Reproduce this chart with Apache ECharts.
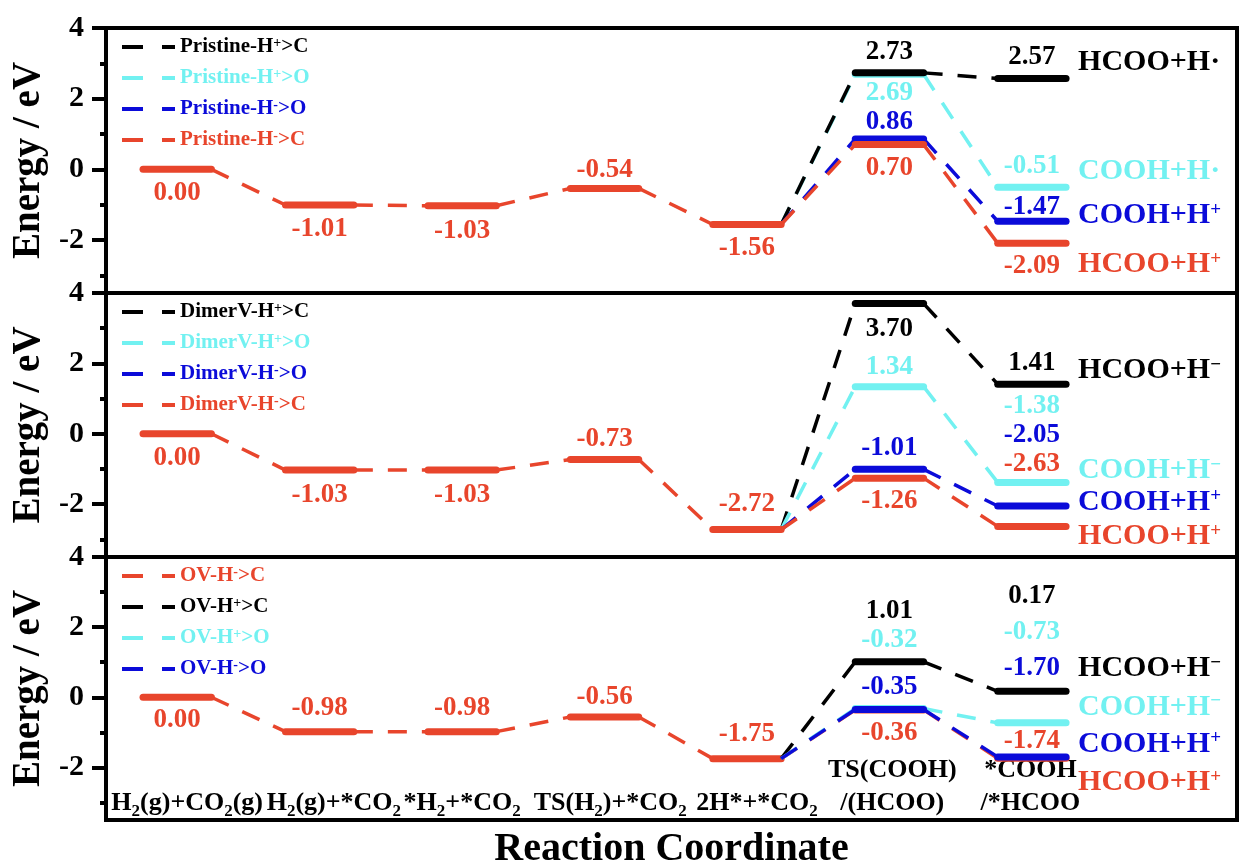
<!DOCTYPE html>
<html>
<head>
<meta charset="utf-8">
<script src="https://cdn.jsdelivr.net/npm/echarts@6/dist/echarts.min.js"></script>
<style>
  html, body { margin: 0; padding: 0; background: #fff; }
  #chart { width: 1240px; height: 863px; }
</style>
</head>
<body>
<div id="chart"></div>
<script>
// Reaction steps along the x axis (₂ is drawn as a subscript)
const stages = ['H₂(g)+CO₂(g)', 'H₂(g)+*CO₂', '*H₂+*CO₂', 'TS(H₂)+*CO₂', '2H*+*CO₂', 'TS(COOH)\n/(HCOO)', '*COOH\n/*HCOO'];

// Hydrogen routes, in the order used by the TS / final arrays below
const routes = ['H⁺>C', 'H⁺>O', 'H⁻>O', 'H⁻>C'];

// Pristine surface (eV)
const pristineShared = [0.00, -1.01, -1.03, -0.54, -1.56];
const pristineTS = [2.73, 2.69, 0.86, 0.70];
const pristineFinal = [2.57, -0.51, -1.47, -2.09];
const pristineProducts = ['HCOO+H·', 'COOH+H·', 'COOH+H⁺', 'HCOO+H⁺'];

// Dimer vacancy (eV)
const dimerShared = [0.00, -1.03, -1.03, -0.73, -2.72];
const dimerTS = [3.70, 1.34, -1.01, -1.26];
const dimerFinal = [1.41, -1.38, -2.05, -2.63];
const dimerProducts = ['HCOO+H⁻', 'COOH+H⁻', 'COOH+H⁺', 'HCOO+H⁺'];

// Oxygen vacancy (eV)
const ovShared = [0.00, -0.98, -0.98, -0.56, -1.75];
const ovTS = [1.01, -0.32, -0.35, -0.36];
const ovFinal = [0.17, -0.73, -1.70, -1.74];
const ovProducts = ['HCOO+H⁻', 'COOH+H⁻', 'COOH+H⁺', 'HCOO+H⁺'];

const yTicks = [-2, 0, 2, 4];
const yMinorTicks = [-3, -1, 1, 3];

// ---- styling / layout ----
const FONT = '"Liberation Serif", "Times New Roman", serif';
const COLORS = ['#000000', '#72F1F1', '#0B0BD9', '#E8452C'];
const HW = 0.24;                    // half width of an energy level, in stage units
const X_MIN = -0.5, X_MAX = 7.44;
const GRIDS = [
  { top: 28, height: 265 },
  { top: 293, height: 264 },
  { top: 557, height: 263 }
];
// small horizontal nudges (in stage units) of the stage captions
const stageLabelNudge = [0.07, 0.1, 0, 0.04, 0.07, 0.02, -0.01];

const panels = [
  { prefix: 'Pristine', shared: pristineShared, ts: pristineTS, fin: pristineFinal, products: pristineProducts,
    legendOrder: [0, 1, 2, 3], drawOrder: [1, 0, 2, 3] },
  { prefix: 'DimerV', shared: dimerShared, ts: dimerTS, fin: dimerFinal, products: dimerProducts,
    legendOrder: [0, 1, 2, 3], drawOrder: [0, 1, 2, 3] },
  { prefix: 'OV', shared: ovShared, ts: ovTS, fin: ovFinal, products: ovProducts,
    legendOrder: [3, 0, 1, 2], drawOrder: [3, 0, 1, 2] }
];

// vertical label offsets (px) from each level line; negative = above
const labelDy = [
  { shared: [24, 24, 25, -18, 24], ts: [-21, 19, -17, 23], fin: [-21, -21, -14, 23], product: [-16, -16, -6, 21] },
  { shared: [24, 25, 25, -20, -26], ts: [25, -20, -21, 23], fin: [-21, -76, -71, -62], product: [-14, -12, -4, 10] },
  { shared: [23, -24, -24, -20, -25], ts: [-51, -68, -23, 23], fin: [-95, -91, -89, -17], product: [-23, -16, -13, 24] }
];

function supMarkup(s) {
  return s.replace('⁺', '{sup|+}').replace('⁻', '{sup|−}');
}

function routeSeries(p, r) {
  const pn = panels[p];
  const lay = labelDy[p];
  const color = COLORS[r];
  const levels = pn.shared.concat([pn.ts[r], pn.fin[r]]);
  // the H⁻>C route carries the common part of the path
  const start = r === 3 ? 0 : levels.length - 2;
  const data = [];
  for (let i = start; i < levels.length; i++) {
    data.push([i, levels[i], i > 0 ? levels[i - 1] : 0]);
  }
  return {
    type: 'custom',
    name: pn.prefix + '-' + routes[r],
    xAxisIndex: p,
    yAxisIndex: 2 * p,
    itemStyle: { color: color },
    clip: false,
    silent: true,
    encode: { x: 0, y: 1 },
    data: data,
    renderItem: function (params, api) {
      const i = api.value(0), v = api.value(1), prev = api.value(2);
      const L = api.coord([i - HW, v]);
      const R = api.coord([i + HW, v]);
      const kids = [];
      if (i > 0) {
        const P = api.coord([i - 1 + HW, prev]);
        kids.push({
          type: 'line',
          shape: { x1: P[0], y1: P[1], x2: L[0], y2: L[1] },
          style: { stroke: color, lineWidth: 3.5, lineDash: [19, 15], fill: null }
        });
      }
      kids.push({
        type: 'line',
        shape: { x1: L[0], y1: L[1], x2: R[0], y2: R[1] },
        style: { stroke: color, lineWidth: 7, lineCap: 'round', fill: null }
      });
      const dy = i < 5 ? lay.shared[i] : (i === 5 ? lay.ts[r] : lay.fin[r]);
      kids.push({
        type: 'text',
        x: (L[0] + R[0]) / 2,
        y: L[1] + dy,
        style: {
          text: v.toFixed(2), fill: color,
          fontSize: 27, fontWeight: 'bold', fontFamily: FONT,
          align: 'center', verticalAlign: 'middle'
        }
      });
      if (i === levels.length - 1) {
        kids.push({
          type: 'text',
          x: R[0] + 12,
          y: R[1] + lay.product[r],
          style: {
            text: supMarkup(pn.products[r]), fill: color,
            fontSize: 30, fontWeight: 'bold', fontFamily: FONT,
            align: 'left', verticalAlign: 'middle',
            rich: {
              sup: { fontSize: 19, fontWeight: 'bold', fontFamily: FONT, fill: color, verticalAlign: 'top', lineHeight: 12 }
            }
          }
        });
      }
      return { type: 'group', children: kids };
    }
  };
}

const grid = GRIDS.map(g => ({
  left: 106, right: 3, top: g.top, height: g.height,
  outerBoundsMode: 'none',
  show: true, borderColor: '#000', borderWidth: 4, backgroundColor: 'transparent'
}));

const xAxis = panels.map((pn, p) => ({
  gridIndex: p,
  type: 'value',
  min: X_MIN,
  max: X_MAX,
  show: p === 2,
  axisLine: { show: false, onZero: false },
  axisTick: { show: false },
  splitLine: { show: false },
  name: p === 2 ? 'Reaction Coordinate' : '',
  nameLocation: 'middle',
  nameGap: 10,
  nameTextStyle: { fontFamily: FONT, fontWeight: 'bold', fontSize: 40, color: '#000', verticalAlign: 'top' },
  axisLabel: {
    show: p === 2,
    inside: true,
    margin: 0,
    customValues: stages.map((s, i) => i + stageLabelNudge[i]),
    formatter: function (val) {
      return stages[Math.round(val)].replace(/₂/g, '{sub|2}');
    },
    color: '#000',
    fontFamily: FONT,
    fontWeight: 'bold',
    fontSize: 26,
    lineHeight: 33,
    rich: {
      sub: { fontFamily: FONT, fontWeight: 'bold', fontSize: 17, color: '#000', verticalAlign: 'bottom', lineHeight: 15 }
    }
  }
}));

const yAxis = [];
panels.forEach((pn, p) => {
  yAxis.push({
    gridIndex: p,
    type: 'value',
    position: 'left',
    min: -3.5,
    max: 4,
    name: 'Energy / eV',
    nameLocation: 'middle',
    nameRotate: 90,
    nameGap: 54,
    nameTextStyle: { fontFamily: FONT, fontWeight: 'bold', fontSize: 39, color: '#000' },
    axisLine: { show: false, onZero: false },
    splitLine: { show: false },
    axisTick: { show: true, customValues: yTicks, length: 14, lineStyle: { width: 4, color: '#000' } },
    axisLabel: { customValues: yTicks, margin: 22, fontFamily: FONT, fontWeight: 'bold', fontSize: 30, color: '#000' }
  });
  yAxis.push({
    gridIndex: p,
    type: 'value',
    position: 'left',
    min: -3.5,
    max: 4,
    axisLine: { show: false, onZero: false },
    splitLine: { show: false },
    axisLabel: { show: false },
    axisTick: { show: true, customValues: yMinorTicks, length: 6, lineStyle: { width: 4, color: '#000' } }
  });
});

const legend = panels.map((pn, p) => ({
  orient: 'vertical',
  left: 122,
  top: GRIDS[p].top + 8,
  padding: 0,
  itemGap: 9,
  itemWidth: 53,
  itemHeight: 4,
  selectedMode: false,
  icon: 'path://M0,0H21V4H0ZM40,0H53V4H40Z',
  data: pn.legendOrder.map(r => ({ name: pn.prefix + '-' + routes[r], textStyle: { color: COLORS[r] } })),
  formatter: function (name) {
    return name.replace('⁺', '{sup|+}').replace('⁻', '{sup|-}');
  },
  textStyle: {
    fontFamily: FONT, fontWeight: 'bold', fontSize: 21, lineHeight: 22,
    rich: { sup: { fontFamily: FONT, fontWeight: 'bold', fontSize: 14, verticalAlign: 'top', lineHeight: 10 } }
  }
}));

const series = [];
panels.forEach((pn, p) => {
  pn.drawOrder.forEach(r => series.push(routeSeries(p, r)));
});

const chart = echarts.init(document.getElementById('chart'), null, { renderer: 'canvas' });
chart.setOption({
  animation: false,
  backgroundColor: '#ffffff',
  grid: grid,
  xAxis: xAxis,
  yAxis: yAxis,
  legend: legend,
  series: series
});
</script>
</body>
</html>
